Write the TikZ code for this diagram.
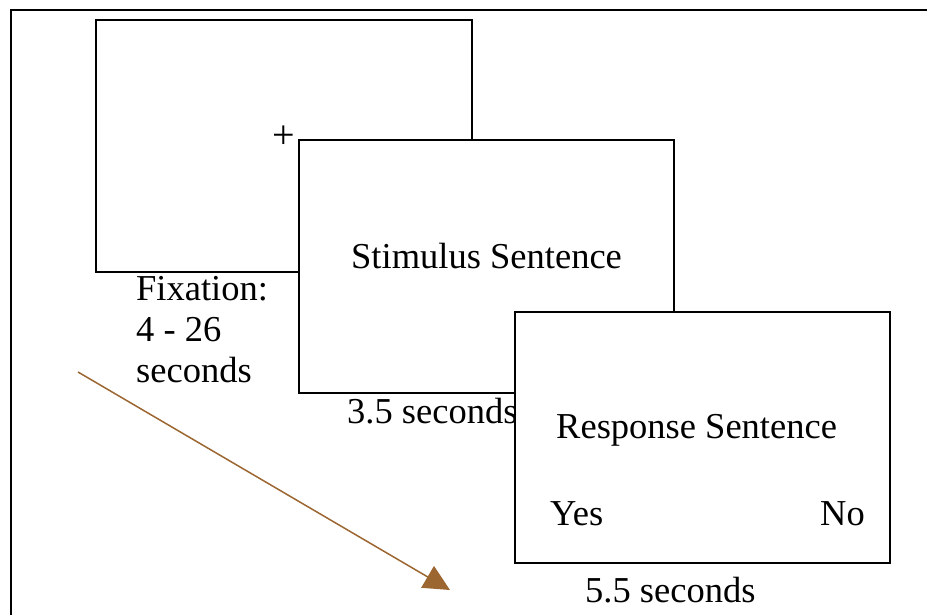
\documentclass[tikz,border=0pt]{standalone}
\usepackage{fontspec}
\setmainfont{Liberation Serif}
\usetikzlibrary{arrows.meta}
\definecolor{arrowbrown}{HTML}{9C6631}
\begin{document}
\begin{tikzpicture}[x=1pt,y=-1pt,
  screen/.style={draw=black,line width=2pt,fill=white},
  label/.style={inner sep=0pt,font=\fontsize{36.5}{41.5}\selectfont},
  frame/.style={draw=black,line width=2pt}]
\useasboundingbox (0,0) rectangle (927,614);
\clip (0,0) rectangle (927,614);
% outer frame
\draw[frame] (11,10) rectangle (940,630);
% fixation screen
\path[screen] (96,20) rectangle (472,272);
\node[label,anchor=center,font=\fontsize{40}{44}\selectfont] (cross) at (284,137) {+};
% stimulus screen
\path[screen] (299,140) rectangle (674,393);
\node[label,anchor=base west] (stim) at (351,268) {Stimulus Sentence};
\node[label,anchor=base west] (fix1) at (136,300) {Fixation:};
\node[label,anchor=base west] (fix2) at (136,341) {4 - 26};
\node[label,anchor=base west] (fix3) at (136,382) {seconds};
\node[label,anchor=base west] (t35) at (347,423) {3.5 seconds};
% response screen
\path[screen] (515,312) rectangle (890,563);
\node[label,anchor=base west] (resp) at (556,438) {Response Sentence};
\node[label,anchor=base west] (yes) at (550,525) {Yes};
\node[label,anchor=base east] (no) at (865,525) {No};
\node[label,anchor=base west] (t55) at (585,602) {5.5 seconds};
% time arrow
\coordinate (tstart) at (78,372);
\coordinate (tend) at (450,590);
\draw[arrowbrown,line width=1.5pt,-{Triangle[length=26pt,width=25pt]}] (tstart) -- (tend);
\end{tikzpicture}
\end{document}
